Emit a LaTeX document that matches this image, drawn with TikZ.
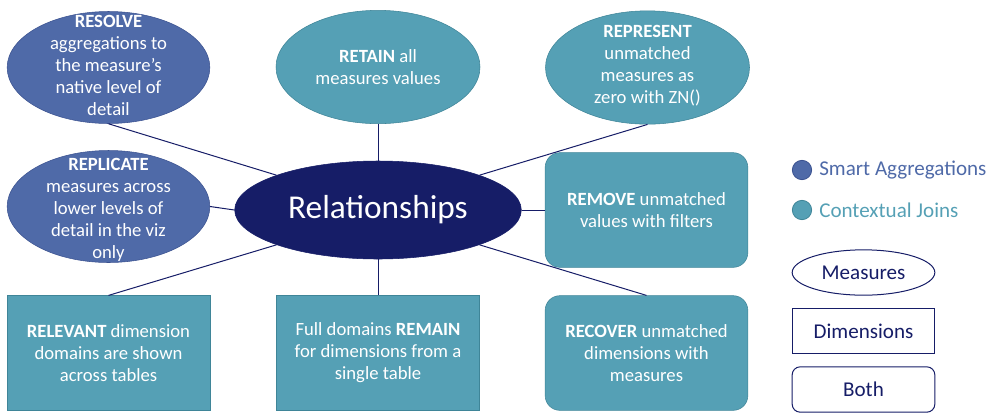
\documentclass[tikz,border=0pt]{standalone}
\usepackage{fontspec}
\setmainfont{Carlito}
\usetikzlibrary{shapes.geometric}
\definecolor{navy}{HTML}{161D67}
\definecolor{smartfill}{HTML}{4F6AA8}
\definecolor{smartline}{HTML}{3B5290}
\definecolor{joinfill}{HTML}{55A0B5}
\definecolor{joinline}{HTML}{3F8598}
\newcommand{\bodyfont}{\fontsize{14}{16.5}\selectfont}
\newcommand{\keyfont}{\fontsize{15.8}{18}\selectfont}
\tikzset{
  smartell/.style={ellipse, draw=smartline, fill=smartfill, minimum width=152pt, minimum height=84pt, inner sep=0pt},
  joinell/.style={ellipse, draw=joinline, fill=joinfill, minimum width=153pt, minimum height=85pt, inner sep=0pt},
  joinbox/.style={rectangle, draw=joinline, fill=joinfill, minimum width=152pt, minimum height=86pt, inner sep=0pt},
  joinround/.style={joinbox, rounded corners=11pt},
  bodytext/.style={text=white, align=center, font=\bodyfont, inner sep=0pt},
  link/.style={draw=navy, line width=0.75pt},
  keyshape/.style={draw=navy, line width=0.75pt, fill=white, minimum width=107pt, minimum height=34pt, inner sep=0pt, text=navy, font=\keyfont},
  keydot/.style={circle, minimum size=14.5pt, inner sep=0pt, line width=0.6pt}
}
\begin{document}
\begin{tikzpicture}[x=0.75pt, y=-0.75pt]
        \useasboundingbox (0,0) rectangle (992,419);

        % top row
        \node[smartell] (resolve) at (108.5,67.5) {};
        \node[bodytext] (resolve-t) at (108.5,65) {\textbf{RESOLVE}\\aggregations to\\the measure’s\\native level of\\detail};
        \node[joinell] (retain) at (378,67) {};
        \node[bodytext] (retain-t) at (retain) {\textbf{RETAIN} all\\measures values};
        \node[joinell] (represent) at (647.5,67.5) {};
        \node[bodytext] (represent-t) at (647.5,65.5) {\textbf{REPRESENT}\\unmatched\\measures as\\zero with ZN()};

        % middle row
        \node[smartell] (replicate) at (108.5,206.5) {};
        \node[bodytext] (replicate-t) at (108.5,210) {\textbf{REPLICATE}\\measures across\\lower levels of\\detail in the viz\\only};
        \node[ellipse, fill=navy, draw=navy, minimum width=215pt, minimum height=73.5pt, inner sep=0pt,
              text=white, font=\fontsize{25}{30}\selectfont] (rel) at (378,210) {Relationships};
        \node[joinround] (remove) at (646.5,210) {};
        \node[bodytext] (remove-t) at (remove) {\textbf{REMOVE} unmatched\\values with filters};

        % bottom row
        \node[joinbox] (relevant) at (108.5,353) {};
        \node[bodytext] (relevant-t) at (relevant) {\textbf{RELEVANT} dimension\\domains are shown\\across tables};
        \node[joinbox] (fulldom) at (378,353) {};
        \node[bodytext] (fulldom-t) at (fulldom) {Full domains \textbf{REMAIN}\\for dimensions from a\\single table};
        \node[joinround] (recover) at (646.5,353) {};
        \node[bodytext] (recover-t) at (recover) {\textbf{RECOVER} unmatched\\dimensions with\\measures};

        % spokes
        \draw[link] (resolve.south) -- (rel.north west);
        \draw[link] (retain.south) -- (rel.north);
        \draw[link] (represent.south) -- (rel.north east);
        \draw[link] (replicate.east) -- (rel.west);
        \draw[link] (remove.west) -- (rel.east);
        \draw[link] (relevant.north) -- (rel.south west);
        \draw[link] (fulldom.north) -- (rel.south);
        \draw[link] (recover.north) -- (rel.south east);

        % key
        \node[keydot, fill=smartfill, draw=smartline] (dot-smart) at (802,170) {};
        \node[right, text=smartfill, font=\keyfont, inner sep=0pt] (key-smart) at (819,170) {Smart Aggregations};
        \node[keydot, fill=joinfill, draw=joinline] (dot-join) at (802,210) {};
        \node[right, text=joinfill, font=\keyfont, inner sep=0pt] (key-join) at (819,210) {Contextual Joins};
        \node[keyshape, ellipse] (key-meas) at (863.5,272.5) {Measures};
        \node[keyshape, rectangle] (key-dim) at (863.5,331) {Dimensions};
        \node[keyshape, rectangle, rounded corners=6pt] (key-both) at (863.5,389.5) {Both};
      \end{tikzpicture}
\end{document}
